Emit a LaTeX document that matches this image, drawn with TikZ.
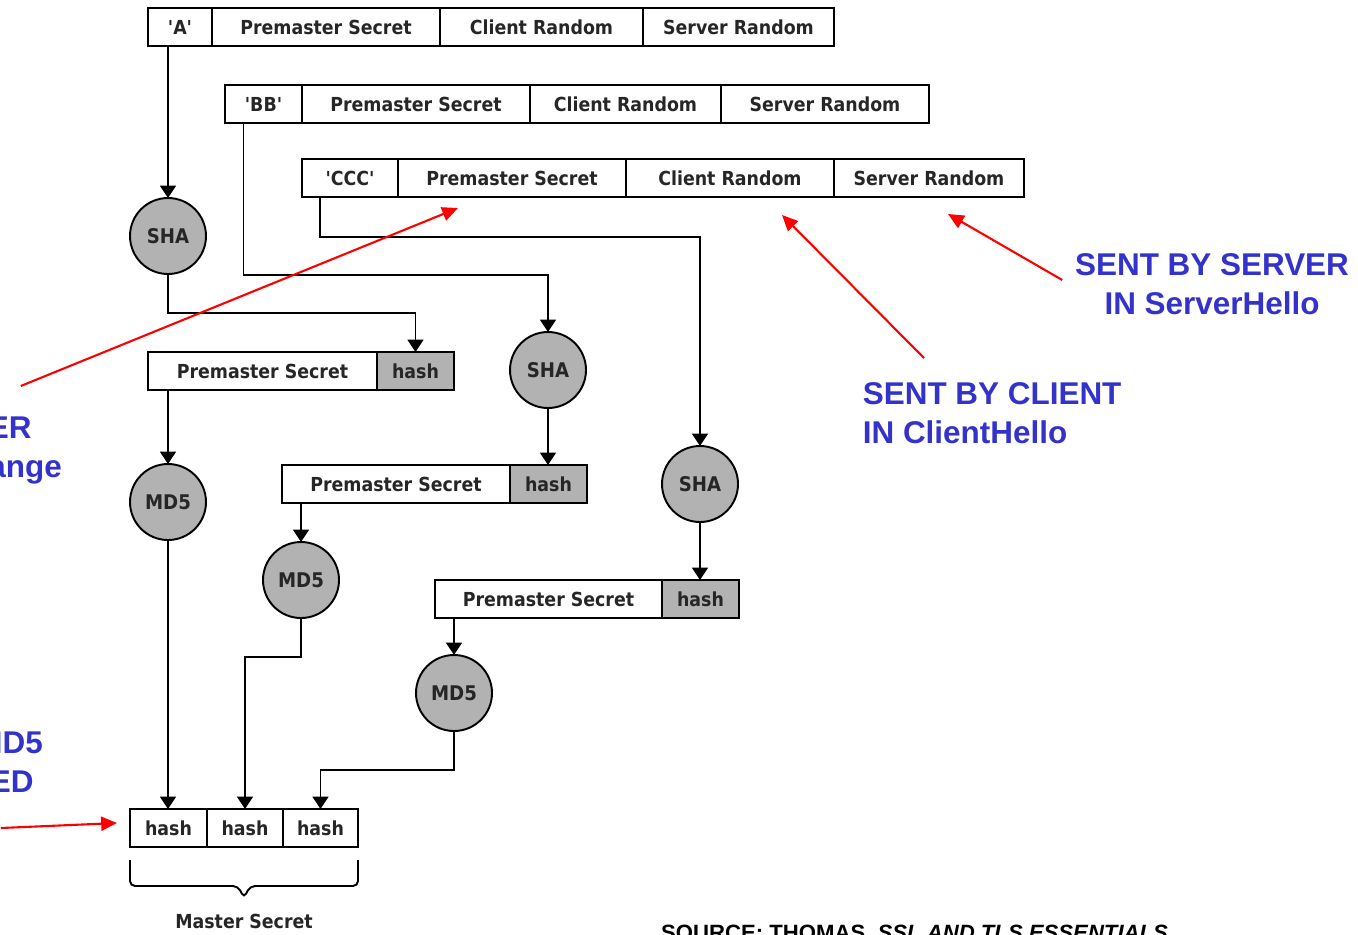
\documentclass[tikz,border=0pt]{standalone}
\usepackage{fontspec}
\setmainfont{Liberation Sans}
\newfontfamily\boxfont{DejaVu Sans Condensed}
\usetikzlibrary{positioning,arrows.meta}
\definecolor{noteblue}{RGB}{51,51,204}
\newcommand{\pxu}{0.02cm}
\tikzset{
  cell/.style={draw, line width=1.1pt, minimum height=38*\pxu, inner sep=0pt, outer sep=0pt,
    font=\boxfont\bfseries\fontsize{11}{13}\selectfont, text=black!85},
  hashcell/.style={cell, fill=black!30},
  hashfn/.style={circle, draw, line width=1.1pt, fill=black!30, minimum size=76*\pxu,
    inner sep=0pt, outer sep=0pt, font=\boxfont\bfseries\fontsize{11.5}{13}\selectfont, text=black!85},
  flow/.style={line width=1.1pt, -{Triangle[width=9pt,length=7pt]}},
  note/.style={font=\bfseries\fontsize{17.9}{22}\selectfont, text=noteblue, align=center, inner sep=2pt},
  pointer/.style={red, line width=1.2pt, -{Triangle[width=8pt,length=9pt]}}
}
\begin{document}
\begin{tikzpicture}[x=\pxu, y=-\pxu]
\useasboundingbox (0,0) rectangle (1358,934);
% input blocks
\node[cell, minimum width=64*\pxu, anchor=west] (a1) at (148,27) {\textquotesingle A\textquotesingle};
\node[cell, minimum width=228*\pxu, right=0pt of a1] (a2) {Premaster Secret};
\node[cell, minimum width=203*\pxu, right=0pt of a2] (a3) {Client Random};
\node[cell, minimum width=191*\pxu, right=0pt of a3] (a4) {Server Random};
\node[cell, minimum width=77*\pxu, anchor=west] (b1) at (225,104) {\textquotesingle BB\textquotesingle};
\node[cell, minimum width=228*\pxu, right=0pt of b1] (b2) {Premaster Secret};
\node[cell, minimum width=191*\pxu, right=0pt of b2] (b3) {Client Random};
\node[cell, minimum width=208*\pxu, right=0pt of b3] (b4) {Server Random};
\node[cell, minimum width=96*\pxu, anchor=west] (c1) at (302,178) {\textquotesingle CCC\textquotesingle};
\node[cell, minimum width=228*\pxu, right=0pt of c1] (c2) {Premaster Secret};
\node[cell, minimum width=208*\pxu, right=0pt of c2] (c3) {Client Random};
\node[cell, minimum width=190*\pxu, right=0pt of c3] (c4) {Server Random};
% hash functions
\node[hashfn] (sha1) at (168,236) {SHA};
\node[hashfn] (sha2) at (548,370) {SHA};
\node[hashfn] (sha3) at (700,484) {SHA};
\node[hashfn] (md5a) at (168,502) {MD5};
\node[hashfn] (md5b) at (301,580) {MD5};
\node[hashfn] (md5c) at (454,693) {MD5};
% second stage blocks
\node[cell, minimum width=229*\pxu, anchor=west] (p1) at (148,371) {Premaster Secret};
\node[hashcell, minimum width=77*\pxu, right=0pt of p1] (h1) {hash};
\node[cell, minimum width=228*\pxu, anchor=west] (p2) at (282,484) {Premaster Secret};
\node[hashcell, minimum width=77*\pxu, right=0pt of p2] (h2) {hash};
\node[cell, minimum width=227*\pxu, anchor=west] (p3) at (435,599) {Premaster Secret};
\node[hashcell, minimum width=77*\pxu, right=0pt of p3] (h3) {hash};
% master secret
\node[cell, minimum width=77*\pxu, anchor=west] (m1) at (130,828) {hash};
\node[cell, minimum width=76*\pxu, right=0pt of m1] (m2) {hash};
\node[cell, minimum width=75*\pxu, right=0pt of m2] (m3) {hash};
\draw[line width=1.1pt, rounded corners=5*\pxu] (130,860) -- (130,886) -- (238,886) -- (244,898) -- (250,886) -- (358,886) -- (358,860);
\node[font=\boxfont\bfseries\fontsize{11}{13}\selectfont, text=black!85] (ms) at (244,921) {Master Secret};
% connections
\draw[flow] (sha1 |- a1.south) -- (sha1.north);
\draw[flow] (sha1.south) -- ++(0,39) -| (h1.north);
\draw[flow] ([xshift=-20*\pxu]b1.south) -- ++(0,152) -| (sha2.north);
\draw[flow] ([xshift=-30*\pxu]c1.south) -- ++(0,40) -| (sha3.north);
\draw[flow] (sha2.south) -- (sha2 |- h2.north);
\draw[flow] (sha3.south) -- (sha3 |- h3.north);
\draw[flow] (md5a |- p1.south) -- (md5a.north);
\draw[flow] (md5b |- p2.south) -- (md5b.north);
\draw[flow] (md5c |- p3.south) -- (md5c.north);
\draw[flow] (md5a.south) -- (md5a |- m1.north);
\draw[flow] (md5b.south) -- ++(0,39) -| (m2.north);
\draw[flow] (md5c.south) -- ++(0,39) -| (m3.north);
% notes
\node[note, anchor=base] (srv) at (1212,314) {SENT BY SERVER\\IN ServerHello};
\node[note, align=left, anchor=base west] (cli) at (859,443) {SENT BY CLIENT\\IN ClientHello};
\node[note, anchor=base] (kex) at (-105,477) {SENT TO SERVER\\IN ClientKeyExchange};
\node[note, anchor=base] (cat) at (-96,792) {OUTPUTS OF MD5\\CONCATENATED};
\node[font=\bfseries\fontsize{12.6}{15}\selectfont, anchor=base west] (src) at (655,940) {SOURCE: THOMAS, \textit{SSL AND TLS ESSENTIALS}};
\draw[pointer] ([shift={(-9,-34)}]srv.base west) -- ([shift={(19,17)}]c4.south);
\draw[pointer] ([shift={(65,-85)}]cli.base west) -- ([shift={(52,18)}]c3.south);
\draw[pointer] ([shift={(-45,-91)}]kex.base east) -- ([shift={(-54,11)}]c2.south);
\draw[pointer] ([shift={(-46,36)}]cat.base east) -- ([shift={(-13,-5)}]m1.west);
\end{tikzpicture}
\end{document}
